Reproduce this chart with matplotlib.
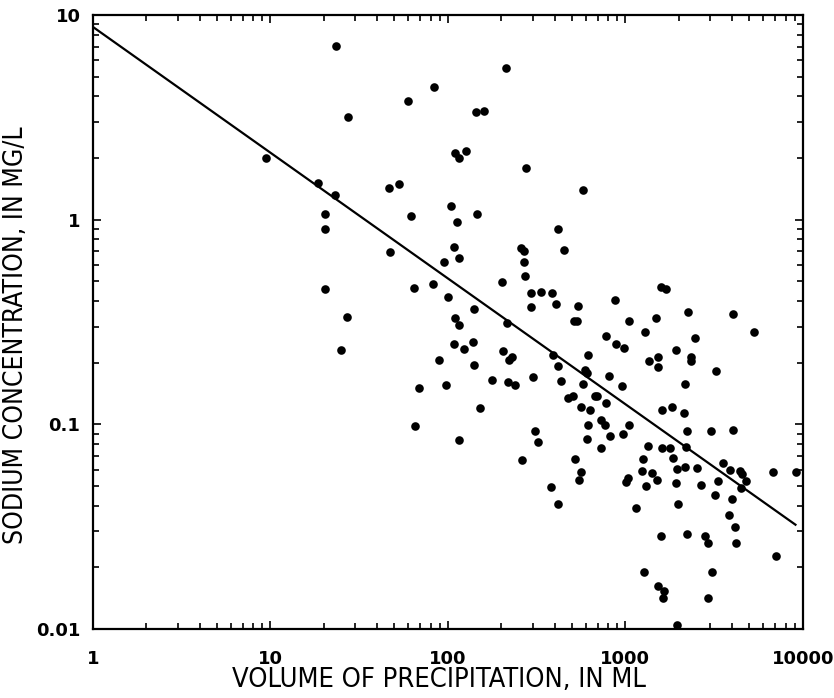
import matplotlib
matplotlib.use("Agg")
import matplotlib.pyplot as plt
import matplotlib.ticker as mticker

plt.rcParams['font.family'] = ['DejaVu Sans']

# volume of precipitation (mL) and sodium concentration (mg/L)
volume = [9.4, 23.4, 212, 83.4, 59.5, 27.3, 144, 160, 109.5, 115,
          126, 18.5, 23.1, 46.5, 53, 104, 20.3, 61.9, 112, 146,
          20.3, 275, 576, 417, 47.1, 108, 115, 94.9, 258, 268,
          451, 268, 272, 201, 20.3, 64.3, 82.3, 100, 294, 334,
          385, 294, 406, 540, 873, 1585, 1691, 2249, 4036, 140,
          27, 109.5, 115, 215, 513, 533, 1047, 1486, 5297, 1288,
          776, 884, 981, 2465, 1927, 204, 221, 229, 25, 108,
          123, 138, 89, 140, 615, 391, 417, 591, 607, 1356,
          1524, 1524, 2339, 2339, 3236, 301, 433, 218, 238, 576,
          807, 955, 2163, 673, 691, 474, 506, 776, 561, 631,
          1606, 1828, 2137, 728, 767, 615, 1047, 309, 968, 818,
          607, 2220, 3034, 4036, 68.7, 97.4, 177, 151, 65.2, 115,
          321, 261, 728, 519, 561, 547, 380, 417, 1339, 1606,
          1782, 2193, 1256, 1853, 1240, 1409, 1504, 1950, 2163, 2529,
          1033, 1006, 1304, 1927, 2663, 3540, 3878, 4418, 4531, 4775,
          4478, 6776, 9141, 3319, 3193, 3981, 1977, 1147, 3828, 4140,
          4198, 1585, 2220, 2806, 2917, 7047, 1271, 3069, 1524, 1648,
          1626, 2917, 1950]
sodium = [2.01, 7.06, 5.51, 4.45, 3.80, 3.18, 3.37, 3.40, 2.12, 2.01,
          2.17, 1.51, 1.32, 1.43, 1.50, 1.17, 1.06, 1.04, 0.977, 1.06,
          0.904, 1.79, 1.40, 0.904, 0.698, 0.738, 0.653, 0.624, 0.73, 0.706,
          0.714, 0.624, 0.533, 0.493, 0.456, 0.461, 0.482, 0.421, 0.436, 0.441,
          0.436, 0.376, 0.385, 0.380, 0.407, 0.466, 0.456, 0.352, 0.344, 0.364,
          0.336, 0.329, 0.304, 0.311, 0.318, 0.321, 0.318, 0.329, 0.281, 0.281,
          0.269, 0.246, 0.235, 0.263, 0.230, 0.227, 0.207, 0.212, 0.230, 0.248,
          0.232, 0.251, 0.207, 0.194, 0.219, 0.217, 0.192, 0.185, 0.179, 0.203,
          0.212, 0.190, 0.212, 0.203, 0.183, 0.171, 0.162, 0.160, 0.155, 0.157,
          0.173, 0.153, 0.157, 0.138, 0.137, 0.134, 0.137, 0.127, 0.122, 0.118,
          0.118, 0.121, 0.113, 0.105, 0.0989, 0.0989, 0.0989, 0.0925, 0.0894, 0.0873,
          0.0845, 0.0925, 0.0925, 0.0935, 0.151, 0.155, 0.164, 0.120, 0.0977, 0.0835,
          0.0817, 0.0667, 0.0764, 0.0675, 0.0583, 0.0533, 0.0493, 0.0407, 0.0781, 0.0764,
          0.0764, 0.0773, 0.0675, 0.0683, 0.0590, 0.0577, 0.0533, 0.0603, 0.0617, 0.0610,
          0.0545, 0.0521, 0.0499, 0.0515, 0.0504, 0.0645, 0.0597, 0.0590, 0.0570, 0.0527,
          0.0488, 0.0583, 0.0583, 0.0527, 0.0451, 0.0431, 0.0407, 0.0389, 0.0360, 0.0315,
          0.0263, 0.0284, 0.0290, 0.0284, 0.0263, 0.0227, 0.0190, 0.0190, 0.0162, 0.0153,
          0.0142, 0.0142, 0.0104]

# regression line end points
line_x = [1, 9100]
line_y = [8.74, 0.0323]

fig = plt.figure(figsize=(8.34, 6.98), dpi=100)
ax = fig.add_axes([0.1115, 0.099, 0.851, 0.8795])

ax.plot(volume, sodium, 'o', color='black', markersize=6.2, markeredgewidth=0)
ax.plot(line_x, line_y, color='black', linewidth=1.6)

ax.set_xscale('log')
ax.set_yscale('log')
ax.set_xlim(1, 10000)
ax.set_ylim(0.01, 10)

for s in ax.spines.values():
    s.set_linewidth(1.6)

ax.tick_params(which='both', direction='in', top=True, right=True, width=1.2)
ax.tick_params(which='major', length=6, labelsize=13)
ax.tick_params(which='minor', length=4)
ax.tick_params(axis='x', which='major', pad=15)
ax.tick_params(axis='y', which='major', pad=9)
ax.xaxis.set_major_formatter(mticker.FuncFormatter(lambda v, p: '%g' % v))
ax.yaxis.set_major_formatter(mticker.FuncFormatter(lambda v, p: '%g' % v))
for lab in ax.get_xticklabels() + ax.get_yticklabels():
    lab.set_fontweight('bold')

ax.set_xlabel('VOLUME OF PRECIPITATION, IN ML', fontsize=19.5, fontstretch='condensed',
              labelpad=0)
ax.set_ylabel('SODIUM CONCENTRATION, IN MG/L', fontsize=19, fontstretch='condensed',
              labelpad=8)
ax.xaxis.set_label_coords(0.487, -0.062)
ax.yaxis.set_label_coords(-0.09, 0.479)

fig.savefig('out.png', dpi=100)
